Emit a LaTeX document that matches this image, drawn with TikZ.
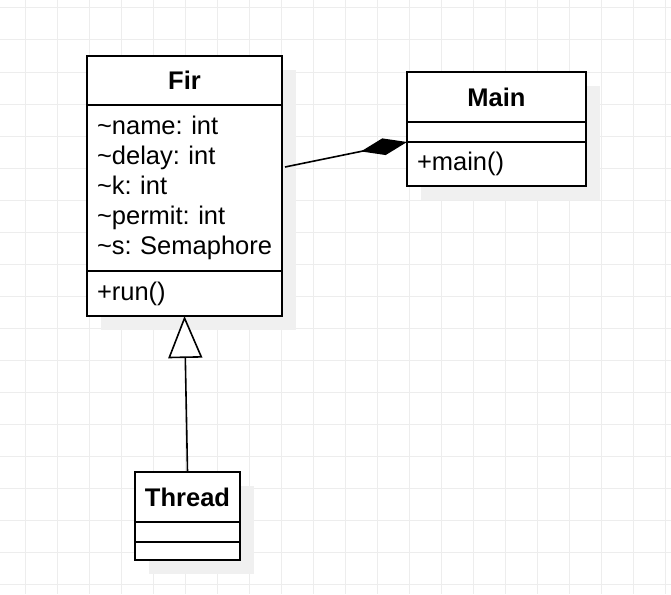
\documentclass[tikz,border=0pt]{standalone}
\usepackage{fontspec}
\setmainfont{Liberation Sans}
\usetikzlibrary{positioning,arrows.meta,shadows}
\frenchspacing
\newcommand\umlattr[1]{\mbox{\textasciitilde#1}}

\begin{document}
\begin{tikzpicture}[x=1pt,y=-1pt,node distance=0pt,
    every node/.style={font=\fontsize{25.5}{30}\selectfont},
    box/.style={draw,line width=2pt,fill=white,outer sep=0pt,inner ysep=0pt,
      drop shadow={shadow xshift=14pt,shadow yshift=-14pt,fill=black!6,opacity=1}},
    head/.style={box,font=\fontsize{25.5}{30}\selectfont\bfseries},
    attrs/.style={box,align=left,inner xsep=10pt}]
    \useasboundingbox (0,0) rectangle (671,594);
    % grid
    \foreach \gx in {25,57,...,665} \draw[black!7,line width=1pt] (\gx,0) -- (\gx,594);
    \foreach \gy in {8,40,...,584} \draw[black!7,line width=1pt] (0,\gy) -- (671,\gy);

    \node[head,minimum width=195pt,minimum height=49pt] (fir) at (184.5,80.5) {Fir};
    \node[attrs,text width=175pt,minimum height=166pt,below=of fir] (firattr)
        {\umlattr{name: int}\\\umlattr{delay: int}\\\umlattr{k: int}\\\umlattr{permit: int}\\\umlattr{s: Semaphore}};
    \node[attrs,text width=175pt,minimum height=45pt,below=of firattr] (firops) {+run()};

    \node[head,minimum width=179pt,minimum height=50pt] (main) at (496.5,97) {Main};
    \node[box,minimum width=179pt,minimum height=20pt,below=of main] (mainattr) {};
    \node[attrs,text width=159pt,minimum height=44pt,below=of mainattr] (mainops) {+main()};

    \node[head,minimum width=105pt,minimum height=50pt] (thread) at (187.5,497) {Thread};
    \node[box,minimum width=105pt,minimum height=20pt,below=of thread] (threadattr) {};
    \node[box,minimum width=105pt,minimum height=18pt,below=of threadattr] (threadops) {};

    \path[line width=1.6pt]
        ([xshift=3pt,yshift=21pt]firattr.east) edge[-{Diamond[length=47pt,width=17pt]}] (mainattr.south west)
        (thread.north) edge[-{Triangle[open,length=42pt,width=34pt,fill=white]}] (firops.south);
\end{tikzpicture}
\end{document}
